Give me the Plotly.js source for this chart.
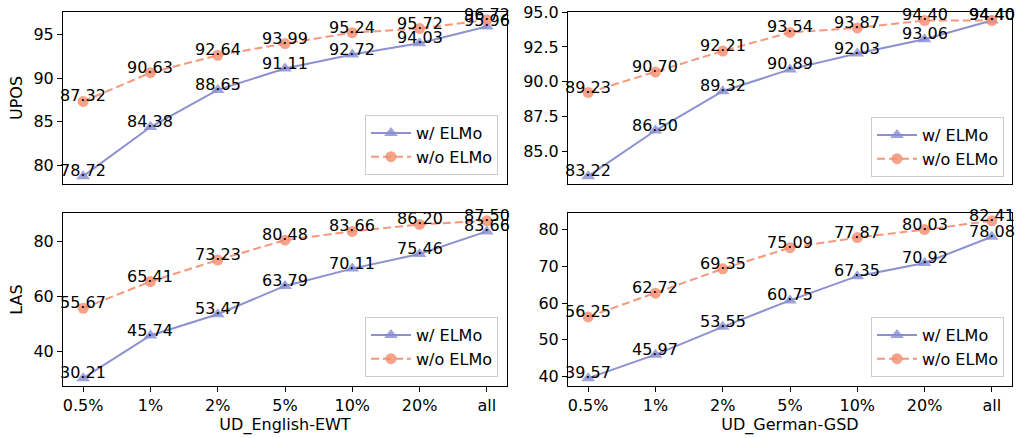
<!DOCTYPE html>
<html>
<head>
<meta charset="utf-8">
<script src="https://cdn.plot.ly/plotly-3.0.1.min.js"></script>
<style>html,body{margin:0;padding:0;background:#fff}#chart{width:1023px;height:438px}</style>
</head>
<body>
<div id="chart"></div>
<script>
const categories = ["0.5%", "1%", "2%", "5%", "10%", "20%", "all"];
const seriesNames = ["w/ ELMo", "w/o ELMo"];
const enUposWith = [78.72, 84.38, 88.65, 91.11, 92.72, 94.03, 95.96];
const enUposWithout = [87.32, 90.63, 92.64, 93.99, 95.24, 95.72, 96.72];
const deUposWith = [83.22, 86.50, 89.32, 90.89, 92.03, 93.06, 94.40];
const deUposWithout = [89.23, 90.70, 92.21, 93.54, 93.87, 94.40, 94.40];
const enLasWith = [30.21, 45.74, 53.47, 63.79, 70.11, 75.46, 83.66];
const enLasWithout = [55.67, 65.41, 73.23, 80.48, 83.66, 86.20, 87.50];
const deLasWith = [39.57, 45.97, 53.55, 60.75, 67.35, 70.92, 78.08];
const deLasWithout = [56.25, 62.72, 69.35, 75.09, 77.87, 80.03, 82.41];
const xTitles = ["UD_English-EWT", "UD_German-GSD"];
const yTitles = ["UPOS", "LAS"];

const FONT = "DejaVu Sans, sans-serif";
const FS = 16;
const blueLine = "rgba(120,126,200,0.85)";
const blueMarker = "rgba(135,140,210,0.8)";
const orangeLine = "rgba(245,140,110,0.9)";
const orangeMarker = "rgba(245,140,110,0.8)";

const panels = [
  {w: enUposWith, wo: enUposWithout, xa: "x", ya: "y", leg: "legend"},
  {w: deUposWith, wo: deUposWithout, xa: "x2", ya: "y2", leg: "legend2"},
  {w: enLasWith, wo: enLasWithout, xa: "x3", ya: "y3", leg: "legend3"},
  {w: deLasWith, wo: deLasWithout, xa: "x4", ya: "y4", leg: "legend4"}
];

const traces = [];
const annotations = [];
panels.forEach(p => {
  traces.push({
    x: categories, y: p.w, name: seriesNames[0], xaxis: p.xa, yaxis: p.ya, legend: p.leg,
    mode: "lines+markers", type: "scatter",
    line: {color: blueLine, width: 2},
    marker: {symbol: "triangle-up", size: 12, color: blueMarker}
  });
  traces.push({
    x: categories, y: p.wo, name: seriesNames[1], xaxis: p.xa, yaxis: p.ya, legend: p.leg,
    mode: "lines+markers", type: "scatter",
    line: {color: orangeLine, width: 2, dash: "8px,4px"},
    marker: {symbol: "circle", size: 11, color: orangeMarker}
  });
  [p.w, p.wo].forEach(arr => {
    arr.forEach((v, i) => {
      annotations.push({
        x: categories[i], y: v, xref: p.xa, yref: p.ya,
        text: v.toFixed(2), showarrow: false,
        xanchor: "center", yanchor: "bottom", yshift: -6,
        font: {family: FONT, size: FS, color: "#000"}
      });
    });
  });
});

const xDomL = [63/1023, 507/1023];
const xDomR = [568/1023, 1012/1023];
const yDomT = [1 - 184/438, 1 - 12/438];
const yDomB = [1 - 386/438, 1 - 213/438];

function xaxis(dom, anchor, showLabels, title) {
  return {
    domain: dom, anchor: anchor, type: "category", categoryorder: "array", categoryarray: categories,
    range: [-0.3, 6.3], showgrid: false, zeroline: false,
    showline: true, mirror: true, linecolor: "#000", linewidth: 1,
    ticks: showLabels ? "outside" : "", ticklen: 5, tickcolor: "#000",
    showticklabels: showLabels,
    tickfont: {family: FONT, size: FS, color: "#000"},
    title: title ? {text: title, font: {family: FONT, size: FS, color: "#000"}, standoff: 4} : undefined
  };
}
function yaxis(dom, anchor, range, dtick, fmt, title) {
  return {
    domain: dom, anchor: anchor, range: range, dtick: dtick, tick0: 0, tickformat: fmt,
    showgrid: false, zeroline: false,
    showline: true, mirror: true, linecolor: "#000", linewidth: 1,
    ticks: "outside", ticklen: 5, tickcolor: "#000",
    tickfont: {family: FONT, size: FS, color: "#000"},
    title: title ? {text: title, font: {family: FONT, size: FS, color: "#000"}, standoff: 6} : undefined
  };
}

function legend(xr, yb) {
  return {
    x: xr/1023, y: 1 - yb/438, xanchor: "right", yanchor: "bottom",
    bgcolor: "rgba(255,255,255,0.8)", bordercolor: "#cccccc", borderwidth: 1,
    font: {family: FONT, size: FS, color: "#000"}, tracegroupgap: 0, itemwidth: 40
  };
}

const layout = {
  width: 1023, height: 438,
  margin: {l: 0, r: 0, t: 0, b: 0},
  paper_bgcolor: "#fff", plot_bgcolor: "#fff",
  showlegend: true,
  xaxis: xaxis(xDomL, "y", false, null),
  yaxis: yaxis(yDomT, "x", [77.82, 97.62], 5, "d", yTitles[0]),
  xaxis2: xaxis(xDomR, "y2", false, null),
  yaxis2: yaxis(yDomT, "x2", [82.66, 95.01], 2.5, ".1f", null),
  xaxis3: xaxis(xDomL, "y3", true, xTitles[0]),
  yaxis3: yaxis(yDomB, "x3", [27.35, 90.36], 20, "d", yTitles[1]),
  xaxis4: xaxis(xDomR, "y4", true, xTitles[1]),
  yaxis4: yaxis(yDomB, "x4", [37.43, 84.55], 10, "d", null),
  legend: legend(498, 175),
  legend2: legend(1004, 177),
  legend3: legend(498, 377),
  legend4: legend(1004, 377),
  annotations: annotations
};

Plotly.newPlot("chart", traces, layout, {displayModeBar: false, staticPlot: true});
</script>
</body>
</html>
